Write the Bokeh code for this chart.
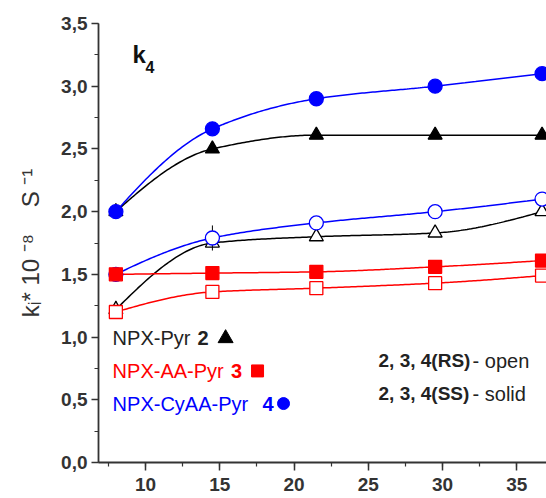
import numpy as np
from bokeh.plotting import figure
from bokeh.models import FixedTicker, Range1d
from bokeh.core.properties import value
from bokeh.embed import file_html
from bokeh.resources import INLINE

# ---------------- data ----------------
temps = [8, 14.5, 21.5, 29.5, 36.7]
pyr2_ss = [2.00, 2.50, 2.61, 2.61, 2.61]        # black filled triangles
pyr2_rs = [1.22, 1.75, 1.80, 1.83, 2.00]        # black open triangles
aa3_ss = [1.50, 1.51, 1.52, 1.56, 1.61]         # red filled squares
aa3_rs = [1.20, 1.36, 1.39, 1.43, 1.49]         # red open squares
cyaa4_ss = [2.00, 2.66, 2.90, 3.00, 3.10]       # blue filled circles
cyaa4_rs = [1.50, 1.79, 1.91, 2.00, 2.10]       # blue open circles
pyr2_rs_err = [0.07, 0.0, 0.0, 0.0, 0.0]
cyaa4_rs_err = [0.0, 0.10, 0.0, 0.0, 0.0]

y_ticks = [0.0, 0.5, 1.0, 1.5, 2.0, 2.5, 3.0, 3.5]
y_tick_labels = ["0,0", "0,5", "1,0", "1,5", "2,0", "2,5", "3,0", "3,5"]
x_ticks = [10, 15, 20, 25, 30, 35]
x_tick_labels = ["10", "15", "20", "25", "30", "35"]

legend_names = ["NPX-Pyr ", "NPX-AA-Pyr ", "NPX-CyAA-Pyr "]
legend_nums = ["2", "3", "4"]
note_bold = ["2, 3, 4(RS)", "2, 3, 4(SS)"]
note_norm = ["- open", "- solid"]
NB = "\u00a0"
y_title = "k\u1d62*" + NB + "10" + NB + "\u207b\u2078" + NB * 4 + "S" + NB + "\u207b\u00b9"

BLACK = "#000000"
RED = "#ff0000"
BLUE = "#0000ff"
AX = "#333333"
FONT = value("Liberation Sans")


def pchip(x, y, n=200):
    x = np.asarray(x, float)
    y = np.asarray(y, float)
    h = np.diff(x)
    d = np.diff(y) / h
    m = np.zeros_like(y)
    for k in range(1, len(x) - 1):
        if d[k - 1] * d[k] <= 0:
            m[k] = 0.0
        else:
            w1 = 2 * h[k] + h[k - 1]
            w2 = h[k] + 2 * h[k - 1]
            m[k] = (w1 + w2) / (w1 / d[k - 1] + w2 / d[k])

    def end(h0, h1, d0, d1):
        s = ((2 * h0 + h1) * d0 - h0 * d1) / (h0 + h1)
        if np.sign(s) != np.sign(d0):
            s = 0.0
        elif np.sign(d0) != np.sign(d1) and abs(s) > abs(3 * d0):
            s = 3 * d0
        return s

    m[0] = end(h[0], h[1], d[0], d[1])
    m[-1] = end(h[-1], h[-2], d[-1], d[-2])
    xs = np.linspace(x[0], x[-1], n)
    idx = np.clip(np.searchsorted(x, xs) - 1, 0, len(x) - 2)
    t = (xs - x[idx]) / h[idx]
    h00 = 2 * t**3 - 3 * t**2 + 1
    h10 = t**3 - 2 * t**2 + t
    h01 = -2 * t**3 + 3 * t**2
    h11 = t**3 - t**2
    ys = h00 * y[idx] + h10 * h[idx] * m[idx] + h01 * y[idx + 1] + h11 * h[idx] * m[idx + 1]
    return xs, ys


p = figure(width=546, height=498, output_backend="svg", toolbar_location=None,
           x_range=Range1d(6.83, 37.0), y_range=Range1d(0, 3.5),
           min_border_left=98, min_border_right=0, min_border_top=23, min_border_bottom=36)
p.outline_line_color = None
p.grid.visible = False
p.background_fill_color = "white"

series = [
    (pyr2_rs, BLACK, "triangle", False, pyr2_rs_err),
    (pyr2_ss, BLACK, "triangle", True, None),
    (cyaa4_rs, BLUE, "circle", False, cyaa4_rs_err),
    (cyaa4_ss, BLUE, "circle", True, None),
    (aa3_rs, RED, "square", False, None),
    (aa3_ss, RED, "square", True, None),
]

for ys, col, mk, filled, err in series:
    sx, sy = pchip(temps, ys)
    p.line(sx, sy, line_color=col, line_width=1.5)

for ys, col, mk, filled, err in series:
    if err is not None:
        xe = [t for t, e in zip(temps, err) if e > 0]
        ye = [v for v, e in zip(ys, err) if e > 0]
        ee = [e for e in err if e > 0]
        p.segment(x0=xe, y0=[a - b for a, b in zip(ye, ee)], x1=xe,
                  y1=[a + b for a, b in zip(ye, ee)], line_color=BLACK, line_width=1)
    size = 14 if mk != "square" else 13
    p.scatter(temps, ys, marker=mk, size=size, line_color=col, line_width=1.3,
              fill_color=col if filled else "white")

# panel label k4
p.text(x=[9.12], y=[3.25], text=["k"], text_font=FONT, text_font_size="24px",
       text_font_style="bold", text_baseline="middle", text_color="#111111")
p.text(x=[9.99], y=[3.15], text=["4"], text_font=FONT, text_font_size="16px",
       text_font_style="bold", text_baseline="middle", text_color="#111111")

# legend texts
leg_x = [7.78, 7.78, 7.78]
leg_y = [0.99, 0.73, 0.47]
num_x = [13.5, 15.75, 17.88]
mk_x = [15.39, 17.54, 19.29]
leg_cols = ["#222222", RED, BLUE]
mk_cols = [BLACK, RED, BLUE]
mk_types = ["triangle", "square", "circle"]
for i in range(3):
    p.text(x=[leg_x[i]], y=[leg_y[i]], text=[legend_names[i]], text_font=FONT,
           text_font_size="20px", text_baseline="middle", text_color=leg_cols[i])
    p.text(x=[num_x[i]], y=[leg_y[i]], text=[legend_nums[i]], text_font=FONT,
           text_font_size="20px", text_font_style="bold", text_baseline="middle",
           text_color=leg_cols[i])
    p.scatter([mk_x[i]], [leg_y[i]], marker=mk_types[i], size=15 if i == 0 else 12,
              fill_color=mk_cols[i], line_color=mk_cols[i])

note_y = [0.81, 0.55]
for i in range(2):
    p.text(x=[25.69], y=[note_y[i]], text=[note_bold[i]], text_font=FONT,
           text_font_size="19px", text_font_style="bold", text_baseline="middle",
           text_color="#222222")
    p.text(x=[32.02], y=[note_y[i]], text=[note_norm[i]], text_font=FONT,
           text_font_size="20px", text_baseline="middle", text_color="#222222")

yax = p.yaxis[0]
yax.ticker = FixedTicker(ticks=y_ticks, minor_ticks=[v * 0.25 for v in range(15)])
yax.major_label_overrides = {v: s for v, s in zip(y_ticks, y_tick_labels)}
yax.axis_label = y_title
yax.axis_label_text_font = "Liberation Sans"
yax.axis_label_text_font_size = "24px"
yax.axis_label_text_font_style = "normal"
yax.axis_label_text_color = AX
yax.axis_label_standoff = 14

xax = p.xaxis[0]
xax.ticker = FixedTicker(ticks=x_ticks, minor_ticks=[7.5 + 2.5 * k for k in range(13)])
xax.major_label_overrides = {v: s for v, s in zip(x_ticks, x_tick_labels)}

for ax in (xax, yax):
    ax.axis_line_color = AX
    ax.axis_line_width = 1.8
    ax.major_tick_line_color = AX
    ax.minor_tick_line_color = AX
    ax.major_tick_line_width = 1.5
    ax.minor_tick_line_width = 1.2
    ax.major_tick_in = 0
    ax.minor_tick_in = 0
    ax.major_label_text_font = "Liberation Sans"
    ax.major_label_text_font_style = "bold"
    ax.major_label_text_color = AX

yax.major_tick_out = 7
yax.minor_tick_out = 4
yax.major_label_standoff = 4
yax.major_label_text_font_size = "19px"
xax.major_tick_out = 8
xax.minor_tick_out = 4
xax.major_label_standoff = 7
xax.major_label_text_font_size = "19px"

open("out.html", "w").write(file_html(p, INLINE))
